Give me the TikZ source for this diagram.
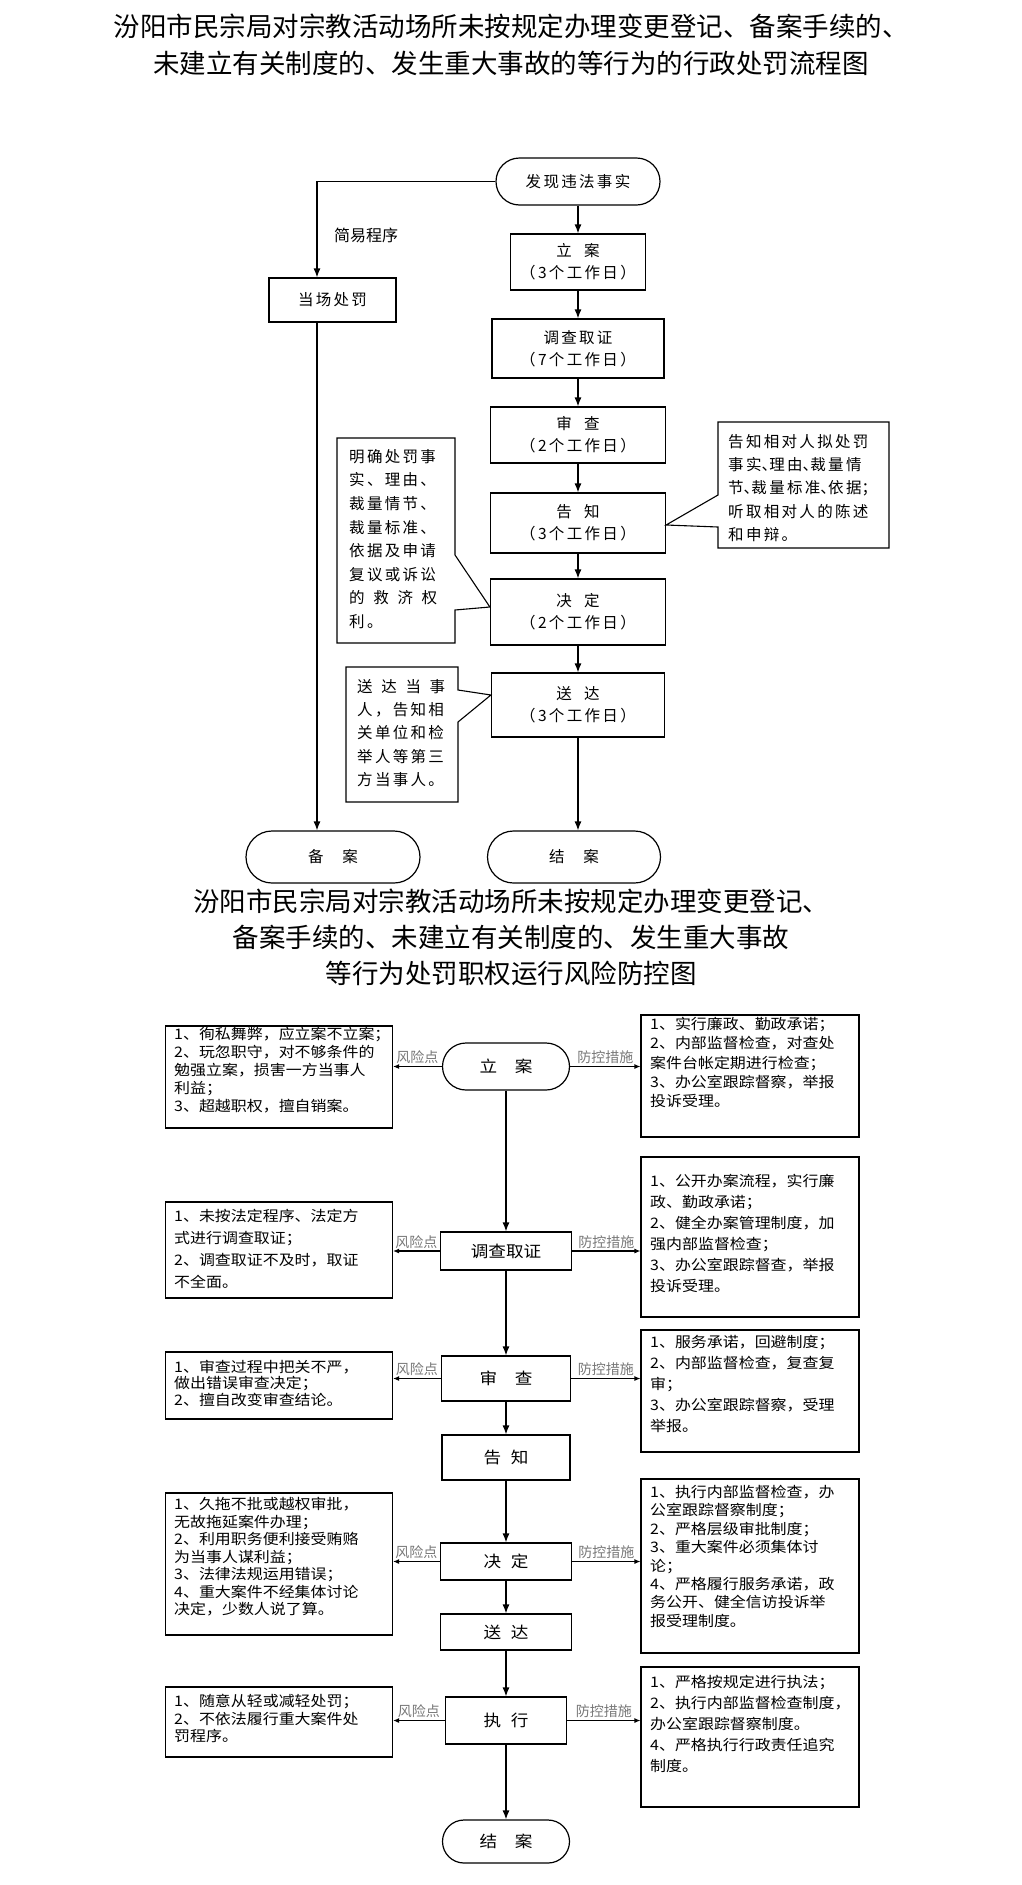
\documentclass[tikz,border=0pt]{standalone}
\usepackage{fontspec}
\setmainfont{Noto Sans CJK SC}
\newfontfamily\spacedfont{Noto Sans CJK SC}[LetterSpace=15]
\newfontfamily\widefont{Noto Sans CJK SC}[FakeStretch=1.1]
\usepackage{tikz}
\usetikzlibrary{calc}
\usetikzlibrary{arrows.meta}
\usetikzlibrary{shapes.misc}
\definecolor{tagcolor}{RGB}{120,120,120}
\newcommand{\halfp}[1]{\makebox[0.5em][l]{#1}}

\tikzset{
  flowbox/.style={draw, line width=1.2pt, inner sep=0pt, align=center, font=\spacedfont\fontsize{15.5}{22}\selectfont},
  flowend/.style={flowbox, rounded rectangle},
  ctrbox/.style={draw, line width=1.2pt, inner sep=0pt, align=center, font=\widefont\fontsize{16}{16}\selectfont},
  ctrend/.style={ctrbox, rounded rectangle},
  notebox/.style={draw, line width=1.1pt, inner sep=0pt},
  notetext/.style={anchor=north west, align=left, inner sep=0pt, font=\widefont\fontsize{14.5}{#1}\selectfont},
  notetext/.default=18,
  calltext/.style={anchor=north west, align=left, inner sep=0pt, font=\spacedfont\fontsize{15.5}{#1}\selectfont},
  calltext/.default=23.4,
  callout/.style={draw, line width=1.1pt},
  tag/.style={midway, above, inner sep=2pt, text=tagcolor, font=\fontsize{14}{14}\selectfont},
  flowarrow/.style={line width=1.2pt, -{Latex[length=9pt,width=7pt]}},
  riskarrow/.style={line width=1.1pt, -{Latex[length=6pt,width=5pt]}},
}

\begin{document}
\begin{tikzpicture}[x=1pt,y=-1pt]
  \fill[white] (0,0) rectangle (1022,1885);
  \useasboundingbox (0,0) rectangle (1022,1885);

  % 行政处罚流程图
  \node[font=\fontsize{26.5}{37}\selectfont, align=center] (title1) at (511,44.5)
    {汾阳市民宗局对宗教活动场所未按规定办理变更登记、备案手续的、\\未建立有关制度的、发生重大事故的等行为的行政处罚流程图};

  \node[flowend, minimum width=164, minimum height=47] (find) at (578,181.5) {发现违法事实};
  \node[flowbox, minimum width=135, minimum height=56] (reg) at (578,262) {立\hspace{0.8em}案\\（3个工作日）};
  \node[flowbox, minimum width=172, minimum height=59] (inv) at (578,348.5) {调查取证\\（7个工作日）};
  \node[flowbox, minimum width=175, minimum height=56] (rev) at (578,435) {审\hspace{0.8em}查\\（2个工作日）};
  \node[flowbox, minimum width=175, minimum height=60] (ntf) at (578,523) {告\hspace{0.8em}知\\（3个工作日）};
  \node[flowbox, minimum width=175, minimum height=66] (dec) at (578,612) {决\hspace{0.8em}定\\（2个工作日）};
  \node[flowbox, minimum width=173, minimum height=64] (dlv) at (578,705) {送\hspace{0.8em}达\\（3个工作日）};
  \node[flowend, minimum width=173, minimum height=52] (close) at (574,857) {结\hspace{1.2em}案};
  \node[flowbox, minimum width=127, minimum height=44] (spot) at (332.5,300) {当场处罚};
  \node[flowend, minimum width=174, minimum height=52] (file) at (333,857) {备\hspace{1.2em}案};
  \node[font=\fontsize{16}{16}\selectfont] (easy) at (366,235) {简易程序};

  \draw[flowarrow] (find.south) -- (reg.north);
  \draw[flowarrow] (reg.south) -- (inv.north);
  \draw[flowarrow] (inv.south) -- (rev.north);
  \draw[flowarrow] (rev.south) -- (ntf.north);
  \draw[flowarrow] (ntf.south) -- (dec.north);
  \draw[flowarrow] (dec.south) -- (dlv.north);
  \draw[flowarrow] (dlv.south) -- (dlv.south |- close.north);

  \coordinate (side) at (317,0);
  \draw[flowarrow] (find.west) -| (side |- spot.north);
  \draw[flowarrow] (spot.south -| side) -- (file.north -| side);

  % 说明框
  \draw[callout] (337,438) -- (455,438) -- (455,555) -- ($(dec.west)+(0,-5)$) -- (455,610) -- (455,643) -- (337,643) -- cycle;
  \node[calltext=23.6] (whytext) at (349,449)
    {明确处罚事\\实、理由、\\裁量情节、\\裁量标准、\\依据及申请\\复议或诉讼\\\makebox[88pt][l]{的\hfill 救\hfill 济\hfill 权}\\利。};

  \draw[callout] (718,422) -- (889,422) -- (889,548) -- (718,548) -- (718,527) -- ($(ntf.east)+(0,2)$) -- (718,495) -- cycle;
  \node[calltext=23.3] (telltext) at (728,434)
    {告知相对人拟处罚\\事实\halfp{、}理由\halfp{、}裁量情\\节\halfp{、}裁量标准\halfp{、}依据\halfp{；}\\听取相对人的陈述\\和申辩。};

  \draw[callout] (346,667) -- (458,667) -- (458,690) -- ($(dlv.west)+(0,-10)$) -- (458,722) -- (458,802) -- (346,802) -- cycle;
  \node[calltext=23.3] (sendtext) at (357,679)
    {\makebox[88pt][l]{送\hfill 达\hfill 当\hfill 事}\\人，告知相\\关单位和检\\举人等第三\\方当事人。};

  % 风险防控图
  \node[font=\fontsize{26.5}{36}\selectfont, align=center] (title2) at (511,937)
    {汾阳市民宗局对宗教活动场所未按规定办理变更登记、\\备案手续的、未建立有关制度的、发生重大事故\\等行为处罚职权运行风险防控图};

  \node[ctrend, minimum width=127, minimum height=47] (c1) at (506,1066.5) {立\hspace{1.1em}案};
  \node[ctrbox, minimum width=131, minimum height=38] (c2) at (506,1251) {调查取证};
  \node[ctrbox, minimum width=129, minimum height=45] (c3) at (506,1378.5) {审\hspace{1.1em}查};
  \node[ctrbox, minimum width=128, minimum height=45] (c4) at (506,1457.5) {告\hspace{0.6em}知};
  \node[ctrbox, minimum width=131, minimum height=37] (c5) at (506,1561.5) {决\hspace{0.6em}定};
  \node[ctrbox, minimum width=131, minimum height=36] (c6) at (506,1632) {送\hspace{0.6em}达};
  \node[ctrbox, minimum width=121, minimum height=47] (c7) at (506,1720.5) {执\hspace{0.6em}行};
  \node[ctrend, minimum width=127, minimum height=43] (c8) at (506,1841.5) {结\hspace{1.1em}案};

  \draw[flowarrow] (c1.south) -- (c2.north);
  \draw[flowarrow] (c2.south) -- (c3.north);
  \draw[flowarrow] (c3.south) -- (c4.north);
  \draw[flowarrow] (c4.south) -- (c5.north);
  \draw[flowarrow] (c5.south) -- (c6.north);
  \draw[flowarrow] (c6.south) -- (c7.north);
  \draw[flowarrow] (c7.south) -- (c8.north);

  % 风险点
  \node[notebox, minimum width=227, minimum height=102] (r1) at (279,1077) {};
  \node[notebox, minimum width=227, minimum height=96] (r2) at (279,1250) {};
  \node[notebox, minimum width=227, minimum height=67] (r3) at (279,1385.5) {};
  \node[notebox, minimum width=227, minimum height=142] (r4) at (279,1564) {};
  \node[notebox, minimum width=227, minimum height=70] (r5) at (279,1722) {};

  \node[notetext=18] (r1text) at (174,1027)
    {1、徇私舞弊，应立案不立案；\\2、玩忽职守，对不够条件的\\勉强立案，损害一方当事人\\利益；\\3、超越职权，擅自销案。};
  \node[notetext=22] (r2text) at (174,1209)
    {1、未按法定程序、法定方\\式进行调查取证；\\2、调查取证不及时，取证\\不全面。};
  \node[notetext=16.5] (r3text) at (174,1360)
    {1、审查过程中把关不严，\\做出错误审查决定；\\2、擅自改变审查结论。};
  \node[notetext=17.5] (r4text) at (174,1497)
    {1、久拖不批或越权审批，\\无故拖延案件办理；\\2、利用职务便利接受贿赂\\为当事人谋利益；\\3、法律法规运用错误；\\4、重大案件不经集体讨论\\决定，少数人说了算。};
  \node[notetext=17.5] (r5text) at (174,1694)
    {1、随意从轻或减轻处罚；\\2、不依法履行重大案件处\\罚程序。};

  % 防控措施
  \node[notebox, minimum width=218, minimum height=122] (m1) at (750,1076) {};
  \node[notebox, minimum width=218, minimum height=160] (m2) at (750,1237) {};
  \node[notebox, minimum width=218, minimum height=122] (m3) at (750,1391) {};
  \node[notebox, minimum width=218, minimum height=174] (m4) at (750,1566) {};
  \node[notebox, minimum width=218, minimum height=140] (m5) at (750,1737) {};

  \node[notetext=19.3] (m1text) at (650,1017)
    {1、实行廉政、勤政承诺；\\2、内部监督检查，对查处\\案件台帐定期进行检查；\\3、办公室跟踪督察，举报\\投诉受理。};
  \node[notetext=21] (m2text) at (650,1174)
    {1、公开办案流程，实行廉\\政、勤政承诺；\\2、健全办案管理制度，加\\强内部监督检查；\\3、办公室跟踪督查，举报\\投诉受理。};
  \node[notetext=21] (m3text) at (650,1335)
    {1、服务承诺，回避制度；\\2、内部监督检查，复查复\\审；\\3、办公室跟踪督察，受理\\举报。};
  \node[notetext=18.4] (m4text) at (650,1485)
    {1、执行内部监督检查，办\\公室跟踪督察制度；\\2、严格层级审批制度；\\3、重大案件必须集体讨\\论；\\4、严格履行服务承诺，政\\务公开、健全信访投诉举\\报受理制度。};
  \node[notetext=21] (m5text) at (650,1675)
    {1、严格按规定进行执法；\\2、执行内部监督检查制度，\\办公室跟踪督察制度。\\4、严格执行行政责任追究\\制度。};

  \draw[riskarrow] (c1.west) -- (c1.west -| r1.east) node[tag] {风险点};
  \draw[riskarrow] (c2.west) -- (c2.west -| r2.east) node[tag] {风险点};
  \draw[riskarrow] (c3.west) -- (c3.west -| r3.east) node[tag] {风险点};
  \draw[riskarrow] (c5.west) -- (c5.west -| r4.east) node[tag] {风险点};
  \draw[riskarrow] (c7.west) -- (c7.west -| r5.east) node[tag] {风险点};

  \draw[riskarrow] (c1.east) -- (c1.east -| m1.west) node[tag] {防控措施};
  \draw[riskarrow] (c2.east) -- (c2.east -| m2.west) node[tag] {防控措施};
  \draw[riskarrow] (c3.east) -- (c3.east -| m3.west) node[tag] {防控措施};
  \draw[riskarrow] (c5.east) -- (c5.east -| m4.west) node[tag] {防控措施};
  \draw[riskarrow] (c7.east) -- (c7.east -| m5.west) node[tag] {防控措施};
\end{tikzpicture}
\end{document}
